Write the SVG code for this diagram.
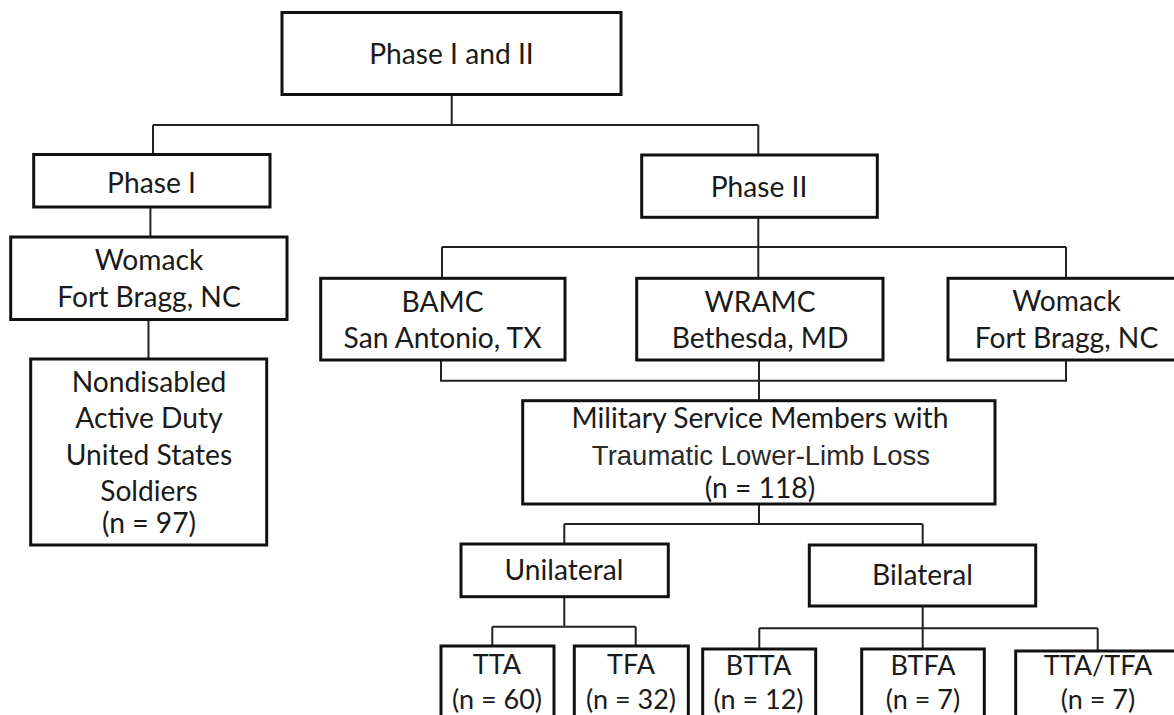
<svg xmlns="http://www.w3.org/2000/svg" width="1174" height="715" viewBox="0 0 1174 715">
<style>
.box{fill:#fff;stroke:#111;stroke-width:3}
.t{font-family:Lato,"Liberation Sans",sans-serif;font-size:28.2px;fill:#1a1a1a;text-anchor:middle}
.s{font-size:27px}
.a{font-family:"Liberation Sans",Arial,sans-serif;font-size:27.5px;fill:#2a2a2a;text-anchor:middle}
#connectors path{fill:none;stroke:#222;stroke-width:2}
</style>
<rect width="1174" height="715" fill="#fff"/>
<g id="connectors">
<path d="M451.7 94V125M153 125H758.3M153 125V155M758.3 125V155"/>
<path d="M150.4 207V237"/>
<path d="M148.5 320V359"/>
<path d="M758.3 217V278M442 247H1066M442 247V278M1066 247V278"/>
<path d="M441 360V380.7H1066V360M759 360V400.7"/>
<path d="M759 504V524M564.3 524H922.7M564.3 524V544M922.7 524V545"/>
<path d="M564.3 596.7V626.7M492.3 626.7H635.7M492.3 626.7V646M635.7 626.7V646"/>
<path d="M922.7 606V649M759.3 628.3H1097.7M759.3 628.3V649M1097.7 628.3V651"/>
</g>
<g id="n-phase12"><rect class="box" x="282" y="12.5" width="339" height="82"/><text class="t" x="451.5" y="63.5">Phase I and II</text></g>
<g id="n-phase1"><rect class="box" x="33.7" y="154.5" width="236.3" height="52.5"/><text class="t" x="151.5" y="193">Phase I</text></g>
<g id="n-womack1"><rect class="box" x="10.7" y="237" width="276.3" height="82.5"/><text class="t" x="149" y="269.5">Womack</text><text class="t" x="149" y="307">Fort Bragg, NC</text></g>
<g id="n-nondisabled"><rect class="box" x="30.7" y="359" width="236" height="186"/><text class="t" x="149" y="391.5">Nondisabled</text><text class="t" x="149" y="428">Active Duty</text><text class="t" x="149" y="465">United States</text><text class="t" x="149" y="500.5">Soldiers</text><text class="t" x="149" y="533">(n = 97)</text></g>
<g id="n-phase2"><rect class="box" x="641.7" y="155" width="235.6" height="62.3"/><text class="t" x="759" y="196.7">Phase II</text></g>
<g id="n-bamc"><rect class="box" x="320.7" y="278.3" width="244.3" height="81.7"/><text class="t" x="442.5" y="311.7">BAMC</text><text class="t" x="442.5" y="348.3">San Antonio, TX</text></g>
<g id="n-wramc"><rect class="box" x="636.7" y="278.3" width="246.3" height="81.7"/><text class="t" x="760" y="311.7">WRAMC</text><text class="t" x="760" y="348.3">Bethesda, MD</text></g>
<g id="n-womack2"><rect class="box" x="948" y="278.3" width="236" height="81.7"/><text class="t" x="1066.5" y="311.3">Womack</text><text class="t" x="1066.5" y="347.5">Fort Bragg, NC</text></g>
<g id="n-military"><rect class="box" x="522.7" y="400.7" width="472.3" height="103.3"/><text class="t" x="760" y="428">Military Service Members with</text><text class="a" x="761" y="465">Traumatic Lower-Limb Loss</text><text class="t" x="760" y="497.5">(n = 118)</text></g>
<g id="n-unilateral"><rect class="box" x="461" y="544" width="207.3" height="52.7"/><text class="t" x="564" y="580">Unilateral</text></g>
<g id="n-bilateral"><rect class="box" x="809.3" y="545" width="226.4" height="61"/><text class="t" x="922.5" y="585">Bilateral</text></g>
<g id="n-tta"><rect class="box" x="441" y="646" width="113" height="80"/><text class="t s" x="497" y="674">TTA</text><text class="t s" x="497" y="708.5">(n = 60)</text></g>
<g id="n-tfa"><rect class="box" x="574.3" y="646" width="114" height="80"/><text class="t s" x="631" y="674">TFA</text><text class="t s" x="631" y="708.5">(n = 32)</text></g>
<g id="n-btta"><rect class="box" x="702.7" y="649" width="113" height="80"/><text class="t s" x="758.5" y="674.5">BTTA</text><text class="t s" x="758.5" y="708.5">(n = 12)</text></g>
<g id="n-btfa"><rect class="box" x="861.7" y="649" width="122.6" height="80"/><text class="t s" x="923" y="674.5">BTFA</text><text class="t s" x="923" y="708.5">(n = 7)</text></g>
<g id="n-ttatfa"><rect class="box" x="1015.7" y="651" width="166" height="80"/><text class="t s" x="1098" y="675">TTA/TFA</text><text class="t s" x="1098" y="708.5">(n = 7)</text></g>
</svg>
